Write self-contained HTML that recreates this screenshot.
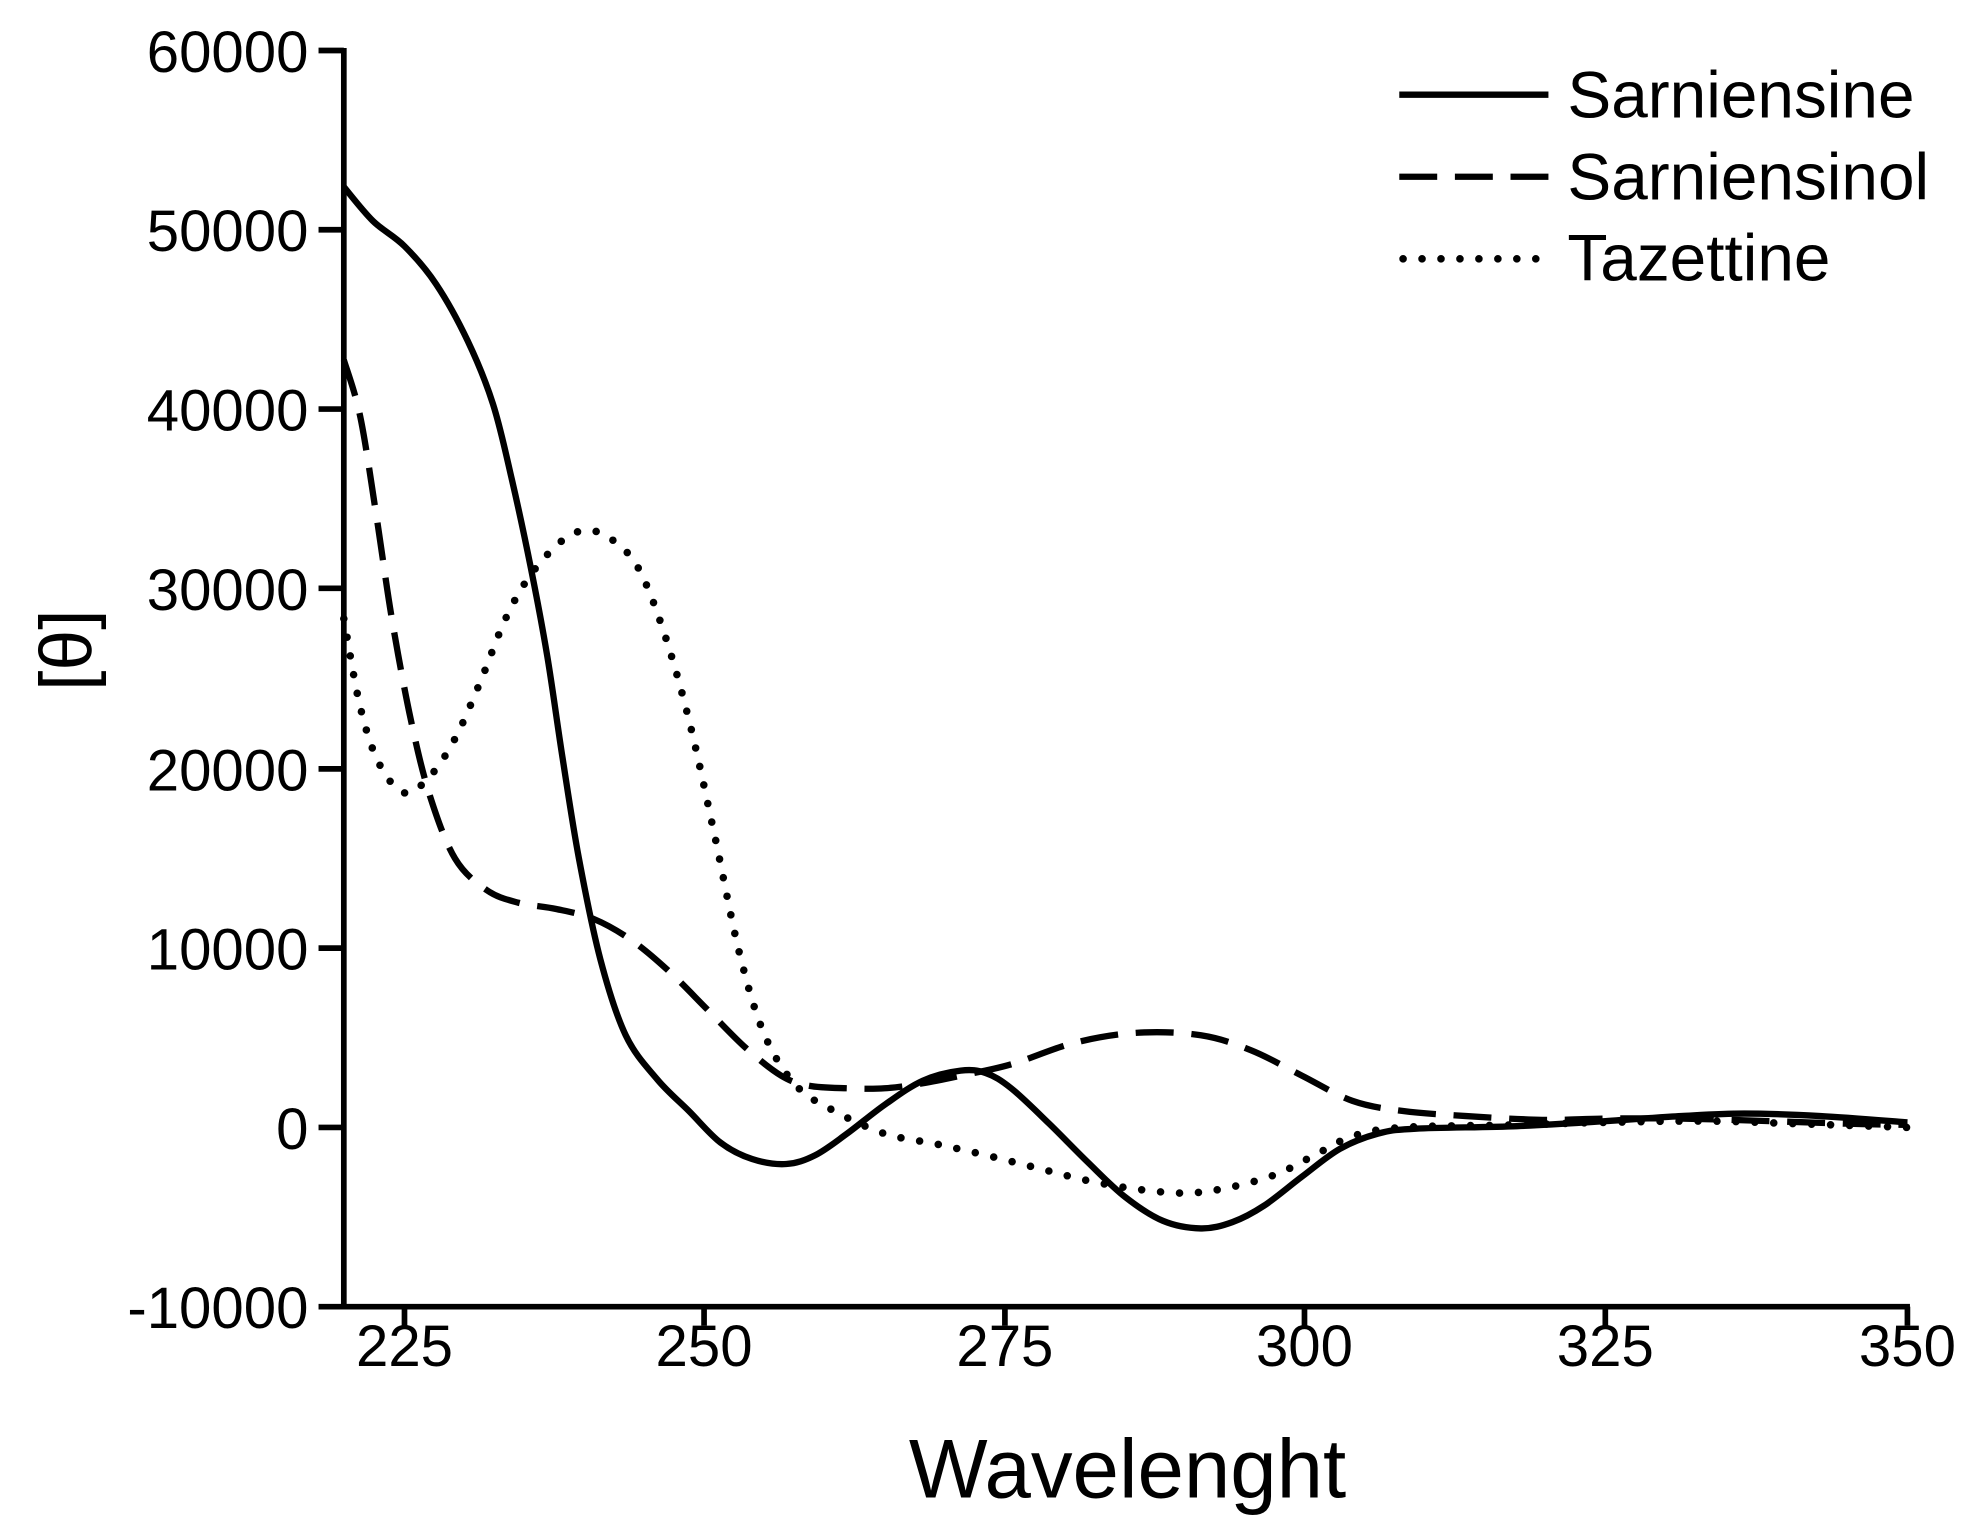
<!DOCTYPE html>
<html><head><style>html,body{margin:0;padding:0;background:#fff}svg{display:block}</style></head><body>
<svg id="s" width="1982" height="1539" viewBox="0 0 1568 1219" preserveAspectRatio="none" xmlns="http://www.w3.org/2000/svg" font-family="Liberation Sans, Arial, sans-serif">
<rect width="1568" height="1219" fill="#fff"/>
<g stroke="#000" stroke-width="4.5" fill="none">
<line x1="272" y1="38" x2="272" y2="1037"/>
<line x1="270" y1="1035" x2="1511" y2="1035"/>
<line x1="252" y1="40" x2="272" y2="40"/>
<line x1="252" y1="182" x2="272" y2="182"/>
<line x1="252" y1="324" x2="272" y2="324"/>
<line x1="252" y1="466" x2="272" y2="466"/>
<line x1="252" y1="609" x2="272" y2="609"/>
<line x1="252" y1="751" x2="272" y2="751"/>
<line x1="252" y1="893" x2="272" y2="893"/>
<line x1="252" y1="1035" x2="272" y2="1035"/>
<line x1="320" y1="1035" x2="320" y2="1050"/>
<line x1="557" y1="1035" x2="557" y2="1050"/>
<line x1="795" y1="1035" x2="795" y2="1050"/>
<line x1="1032" y1="1035" x2="1032" y2="1050"/>
<line x1="1270" y1="1035" x2="1270" y2="1050"/>
<line x1="1509" y1="1035" x2="1509" y2="1050"/>
</g>
<g font-size="46" text-anchor="end" fill="#000">
<text x="244" y="57">60000</text>
<text x="244" y="199">50000</text>
<text x="244" y="341">40000</text>
<text x="244" y="483">30000</text>
<text x="244" y="626">20000</text>
<text x="244" y="768">10000</text>
<text x="244" y="910">0</text>
<text x="244" y="1052">-10000</text>
</g>
<g font-size="46" text-anchor="middle" fill="#000">
<text x="320" y="1082">225</text>
<text x="557" y="1082">250</text>
<text x="795" y="1082">275</text>
<text x="1032" y="1082">300</text>
<text x="1270" y="1082">325</text>
<text x="1509" y="1082">350</text>
</g>
<text x="892" y="1186" font-size="66" text-anchor="middle">Wavelenght</text>
<text transform="translate(72,515) rotate(-90)" font-size="58" text-anchor="middle">[θ]</text>
<g fill="none" stroke="#000" stroke-width="5" stroke-linejoin="round">
<path id="p1"/>
<path id="p2" stroke-dasharray="30,14"/>
<path id="p3" stroke-dasharray="0,15" stroke-linecap="round" stroke-width="6"/>
<line x1="1107" y1="75" x2="1225" y2="75"/>
<line x1="1107" y1="140" x2="1225" y2="140" stroke-dasharray="30,14"/>
<line x1="1110" y1="205" x2="1225" y2="205" stroke-dasharray="0,15" stroke-linecap="round" stroke-width="6"/>
</g>
<g font-size="52" fill="#000">
<text x="1240" y="93">Sarniensine</text>
<text x="1240" y="158">Sarniensinol</text>
<text x="1240" y="222">Tazettine</text>
</g>
</svg>
<script>
function cr(s){var p=s.trim().split(/\s+/).map(function(t){return t.split(',').map(Number)});var d='M'+p[0][0]+','+p[0][1];
for(var i=0;i<p.length-1;i++){var a=p[i-1]||p[i],b=p[i],c=p[i+1],e=p[i+2]||c;
d+=' C'+(b[0]+(c[0]-a[0])/6)+','+(b[1]+(c[1]-a[1])/6)+' '+(c[0]-(e[0]-b[0])/6)+','+(c[1]-(e[1]-b[1])/6)+' '+c[0]+','+c[1];}return d;}
document.getElementById('p1').setAttribute('d',cr("272,148 295,175 320,195 345,225 370,270 390,320 405,380 420,450 433,520 445,600 458,680 475,760 495,820 520,855 545,880 570,905 595,918 622,922 645,915 670,898 700,875 730,856 760,848 780,850 800,862 830,890 860,920 890,948 920,967 950,973 975,968 1000,955 1030,932 1060,910 1090,898 1120,894 1200,892 1270,888 1330,884 1380,882 1440,884 1509,889"));
document.getElementById('p2').setAttribute('d',cr("272,285 285,330 298,410 310,490 325,570 340,630 360,680 385,705 410,715 440,720 470,728 500,745 530,770 560,800 590,830 618,852 640,860 670,862 700,862 730,858 760,852 800,843 850,826 900,818 950,820 990,832 1030,852 1070,872 1110,880 1160,884 1220,887 1270,886 1330,886 1400,888 1460,890 1509,891"));
document.getElementById('p3').setAttribute('d',cr("272,490 285,560 300,605 320,628 340,615 360,585 380,540 400,490 420,455 445,428 465,420 485,428 505,450 525,500 545,570 565,660 585,755 605,820 630,860 660,880 700,898 740,906 780,915 820,925 860,935 900,942 940,945 975,940 1010,930 1040,915 1070,900 1110,893 1200,891 1270,889 1350,888 1420,890 1509,893"));
</script>
</body></html>
